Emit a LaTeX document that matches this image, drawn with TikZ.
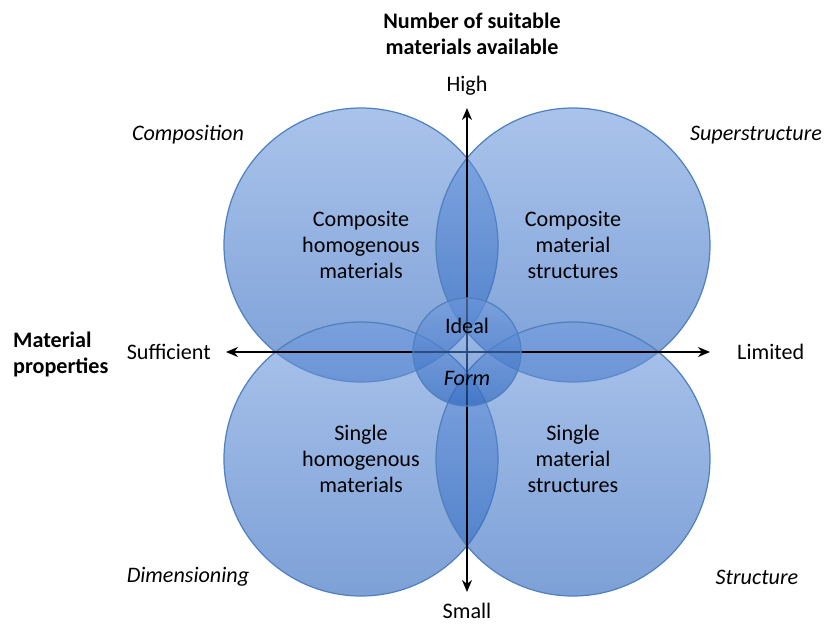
\documentclass[tikz,border=0pt]{standalone}
\usepackage{fontspec}
\setmainfont{Carlito}
\usetikzlibrary{calc}
\usetikzlibrary{arrows.meta}
\definecolor{circtop}{RGB}{113,155,222}
\definecolor{circbot}{RGB}{38,97,188}
\definecolor{circline}{RGB}{79,129,189}

\begin{document}
\begin{tikzpicture}[
        font=\fontsize{12.6}{14.8}\selectfont,
        region/.style={circle, draw=circline, line width=0.7pt, top color=circtop, bottom color=circbot,
            fill opacity=0.6, text opacity=1, inner sep=0pt, align=center},
        axis/.style={line width=1.3pt, {Stealth[length=2.4mm,width=2mm]}-{Stealth[length=2.4mm,width=2mm]}}
    ]
        \useasboundingbox (-9.34,-5.44) rectangle (7.16,7.02);
        \coordinate (origin) at (0, 0);

        % the four big regions
        \node (comp) [region, minimum size=5.48cm] at ($(origin) + (-2.12, 2.12)$) {Composite\\homogenous\\materials};
        \node (super) [region, minimum size=5.48cm] at ($(origin) + (2.12, 2.12)$) {Composite\\material\\structures};
        \node (dim) [region, minimum size=5.48cm] at ($(origin) + (-2.12, -2.16)$) {Single\\homogenous\\materials};
        \node (struct) [region, minimum size=5.48cm] at ($(origin) + (2.12, -2.16)$) {Single\\material\\structures};

        % axes
        \coordinate (north) at ($(origin) + (0, 4.86)$);
        \coordinate (south) at ($(origin) + (0, -4.82)$);
        \coordinate (west) at ($(origin) + (-4.82, -0.02)$);
        \coordinate (east) at ($(origin) + (4.86, -0.02)$);
        \draw [axis] (south) -- (north);
        \draw [axis] (west) -- (east);

        \node (ideal) [region, minimum size=2.16cm] at ($(origin) + (0, -0.02)$) {};
        \node (idealtxt) at ($(ideal) + (0, 0.52)$) {Ideal};
        \node (formtxt) at ($(ideal) + (0, -0.52)$) {\itshape Form};

        \node (high) at ($(origin) + (0, 5.3)$) {High};
        \node (small) at ($(origin) + (0, -5.2)$) {Small};
        \node (suff) [anchor=east] at ($(origin) + (-5.0, -0.02)$) {Sufficient};
        \node (lim) [anchor=west] at ($(origin) + (5.28, -0.02)$) {Limited};

        \node (ylab) [align=center, font=\fontsize{12.6}{14.8}\selectfont\bfseries] at ($(origin) + (0.1, 6.35)$) {Number of suitable\\materials available};
        \node (xlab) [align=left, anchor=west, font=\fontsize{12.6}{14.8}\selectfont\bfseries] at ($(origin) + (-9.2, -0.06)$) {Material\\properties};

        \node (complab) at ($(origin) + (-5.58, 4.32)$) {\itshape Composition};
        \node (superlab) at ($(origin) + (5.78, 4.32)$) {\itshape Superstructure};
        \node (dimlab) at ($(origin) + (-5.58, -4.52)$) {\itshape Dimensioning};
        \node (structlab) at ($(origin) + (5.8, -4.52)$) {\itshape Structure};
\end{tikzpicture}
\end{document}
